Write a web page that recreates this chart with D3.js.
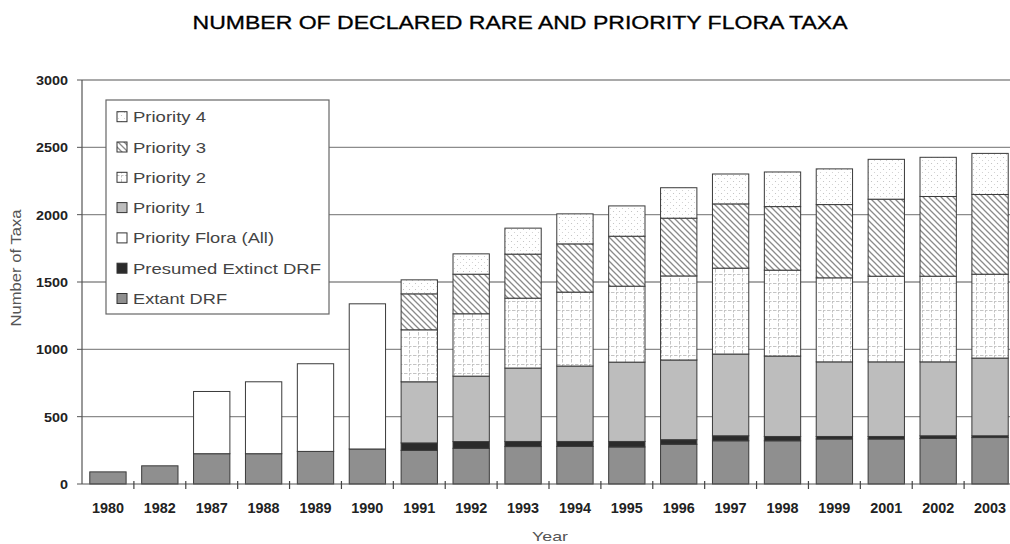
<!DOCTYPE html>
<html><head><meta charset="utf-8">
<script src="https://cdn.jsdelivr.net/npm/d3@7"></script>
<style>body{margin:0;background:#fff}</style>
</head><body><svg id="c" width="1010" height="544"></svg>
<script>
const years = ["1980","1982","1987","1988","1989","1990","1991","1992","1993","1994","1995","1996","1997","1998","1999","2001","2002","2003"];
const extantDRF          = [90,135,225,225,242,260,250,265,278,279,275,295,321,321,334,334,338,345];
const presumedExtinctDRF = [0,0,0,0,0,0,55,50,38,37,41,34,37,32,19,19,20,13];
const priorityFloraAll   = [0,0,462,534,651,1078,0,0,0,0,0,0,0,0,0,0,0,0];
const priority1          = [0,0,0,0,0,0,454,486,545,560,589,592,607,597,554,554,549,577];
const priority2          = [0,0,0,0,0,0,386,463,519,549,564,624,638,638,624,636,636,623];
const priority3          = [0,0,0,0,0,0,267,294,327,358,371,429,477,472,544,572,592,592];
const priority4          = [0,0,0,0,0,0,104,151,193,223,225,226,222,257,265,296,291,305];
const yTicks = [0,500,1000,1500,2000,2500,3000];
const seriesKeys   = ["extant","presumed","pfAll","p1","p2","p3","p4"];
const seriesNames  = ["Extant DRF","Presumed Extinct DRF","Priority Flora (All)","Priority 1","Priority 2","Priority 3","Priority 4"];
const titleText = "NUMBER OF DECLARED RARE AND PRIORITY FLORA TAXA";
const xTitle = "Year", yTitle = "Number of Taxa";

const table = years.map((y,i)=>({year:y, extant:extantDRF[i], presumed:presumedExtinctDRF[i], pfAll:priorityFloraAll[i],
  p1:priority1[i], p2:priority2[i], p3:priority3[i], p4:priority4[i]}));

const svg = d3.select("#c");
const FONT = "'Liberation Sans', Arial, sans-serif";
const defs = svg.append("defs");
// Priority 4: fine dots
const pd = defs.append("pattern").attr("id","pat4").attr("patternUnits","userSpaceOnUse").attr("width",6).attr("height",6);
pd.append("rect").attr("width",6).attr("height",6).attr("fill","#fff");
pd.append("circle").attr("cx",1.5).attr("cy",1.5).attr("r",0.55).attr("fill","#bbb");
pd.append("circle").attr("cx",4.5).attr("cy",4.5).attr("r",0.55).attr("fill","#ccc");
// Priority 3: diagonal hatching
const ph = defs.append("pattern").attr("id","pat3").attr("patternUnits","userSpaceOnUse").attr("width",6).attr("height",6);
ph.append("rect").attr("width",6).attr("height",6).attr("fill","#fff");
ph.append("path").attr("d","M0,0L6,6M-1,5L1,7M5,-1L7,1").attr("stroke","#8a8a8a").attr("stroke-width",1.3);
// Priority 2: dotted grid
const pg = defs.append("pattern").attr("id","pat2").attr("patternUnits","userSpaceOnUse").attr("width",9).attr("height",9);
pg.append("rect").attr("width",9).attr("height",9).attr("fill","#fff");
pg.append("path").attr("d","M4.5,0V9M0,4.5H9").attr("stroke","#c4c4c4").attr("stroke-width",1).attr("stroke-dasharray","2.5,1.5");

const fills = {extant:"#8f8f8f", presumed:"#2b2b2b", pfAll:"#ffffff", p1:"#bdbdbd", p2:"url(#pat2)", p3:"url(#pat3)", p4:"url(#pat4)"};

const x = d3.scaleBand().domain(years).range([82,1016]).paddingInner(0.3).paddingOuter(0.15);
const y = d3.scaleLinear().domain([0,3000]).range([484,80]);

// gridlines
svg.append("g").selectAll("line").data(yTicks.filter(d=>d>0)).join("line")
  .attr("x1",82).attr("x2",1010).attr("y1",d=>y(d)).attr("y2",d=>y(d))
  .attr("stroke","#8c8c8c").attr("stroke-width",1.4);

// bars
const stack = d3.stack().keys(seriesKeys)(table);
const g = svg.append("g");
stack.forEach(s=>{
  g.append("g").selectAll("rect").data(s.filter(d=>d[1]-d[0]>0)).join("rect")
    .attr("x",d=>x(d.data.year)).attr("width",x.bandwidth())
    .attr("y",d=>y(d[1])).attr("height",d=>y(d[0])-y(d[1]))
    .attr("fill",fills[s.key]).attr("stroke","#3a3a3a").attr("stroke-width",1);
});

// y axis
const ya = svg.append("g");
ya.append("line").attr("x1",82).attr("x2",82).attr("y1",80).attr("y2",484).attr("stroke","#555").attr("stroke-width",1.2);
ya.selectAll("line.t").data(yTicks).join("line").attr("class","t")
  .attr("x1",77).attr("x2",82).attr("y1",d=>y(d)).attr("y2",d=>y(d)).attr("stroke","#555");
ya.selectAll("text").data(yTicks).join("text")
  .attr("x",68).attr("y",d=>y(d)+5).attr("text-anchor","end")
  .attr("font-family",FONT).attr("font-weight","bold").attr("font-size",13).attr("fill","#222")
  .attr("textLength",d=>String(d).length*8).attr("lengthAdjust","spacingAndGlyphs")
  .text(d=>d);

// x axis
const xa = svg.append("g");
xa.append("line").attr("x1",82).attr("x2",1010).attr("y1",484).attr("y2",484).attr("stroke","#555").attr("stroke-width",1.2);
const step = x.step();
xa.selectAll("line.t").data(years.slice(1)).join("line").attr("class","t")
  .attr("x1",d=>x(d)-(step-x.bandwidth())/2).attr("x2",d=>x(d)-(step-x.bandwidth())/2)
  .attr("y1",481).attr("y2",489).attr("stroke","#444").attr("stroke-width",1.2);
xa.selectAll("text").data(years).join("text")
  .attr("x",d=>x(d)+x.bandwidth()/2).attr("y",513).attr("text-anchor","middle")
  .attr("font-family",FONT).attr("font-weight","bold").attr("font-size",14).attr("fill","#222")
  .attr("textLength",32).attr("lengthAdjust","spacingAndGlyphs")
  .text(d=>d);

// titles
svg.append("text").attr("x",520).attr("y",29).attr("text-anchor","middle")
  .attr("font-family",FONT).attr("font-size",18).attr("fill","#000").attr("stroke","#000").attr("stroke-width",0.3)
  .attr("textLength",655).attr("lengthAdjust","spacingAndGlyphs").text(titleText);
svg.append("text").attr("x",550).attr("y",541).attr("text-anchor","middle")
  .attr("font-family",FONT).attr("font-size",13).attr("fill","#555")
  .attr("textLength",36).attr("lengthAdjust","spacingAndGlyphs").text(xTitle);
svg.append("text").attr("transform","translate(21,268) rotate(-90)").attr("text-anchor","middle")
  .attr("font-family",FONT).attr("font-size",14).attr("fill","#555")
  .attr("textLength",117).attr("lengthAdjust","spacingAndGlyphs").text(yTitle);

// legend
const lg = svg.append("g");
lg.append("rect").attr("x",106).attr("y",100).attr("width",223).attr("height",214)
  .attr("fill","#fff").attr("stroke","#666").attr("stroke-width",1.2);
const legendOrder = [6,5,4,3,2,1,0];
const legendWidths = {p4:73,p3:73,p2:73,p1:72,pfAll:141,presumed:188,extant:94};
legendOrder.forEach((k,i)=>{
  const key = seriesKeys[k];
  const cy = 116.7 + i*30.3;
  lg.append("rect").attr("x",117).attr("y",cy-5).attr("width",10).attr("height",10)
    .attr("fill",fills[key]).attr("stroke","#333").attr("stroke-width",1);
  lg.append("text").attr("x",133).attr("y",cy+5.5)
    .attr("font-family",FONT).attr("font-size",15).attr("fill","#444")
    .attr("textLength",legendWidths[key]).attr("lengthAdjust","spacingAndGlyphs")
    .text(seriesNames[k]);
});
</script>
</body></html>
